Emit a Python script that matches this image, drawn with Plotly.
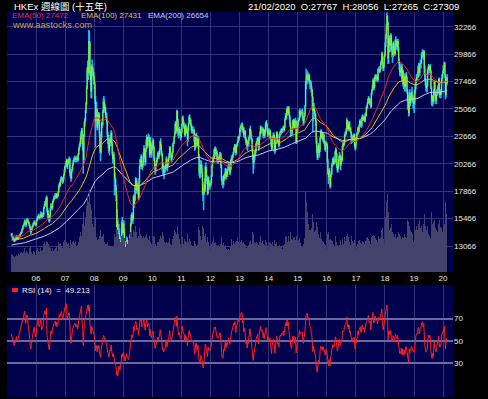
import numpy as np
import pandas as pd
import plotly.graph_objects as go

# ---------------- data (HSI weekly, values in hundreds of points) ----------------
first_open = 140
close = [
    # 2005 (from 25 Feb)
    141,139,138,137,136,135,137,136,137,139,138,137,138,139,139,140,141,142,143,145,146,148,149,151,152,150,149,152,154,153,152,151,149,147,144,143,145,147,148,150,151,152,150,149,149,
    # 2006
    153,154,155,157,156,155,156,158,159,156,157,158,158,164,166,168,167,171,173,162,158,159,155,153,157,163,166,165,164,169,171,172,173,174,175,173,176,174,175,178,182,185,184,188,189,190,188,187,189,193,196,200,
    # 2007
    201,203,206,200,203,205,207,207,194,193,190,197,198,202,205,206,207,208,206,206,206,208,206,211,216,218,220,226,229,232,223,220,206,228,238,241,249,255,269,285,288,282,310,308,284,276,266,288,285,284,280,278,
    # 2008
    272,259,240,251,250,234,245,240,246,229,216,213,226,238,237,248,257,257,250,252,245,245,240,229,224,223,214,221,224,222,230,220,212,207,211,206,190,189,182,175,147,152,128,139,142,135,127,135,138,150,151,142,
    # 2009
    150,144,133,126,130,132,136,128,127,123,125,131,139,150,156,158,153,155,174,168,171,182,189,188,179,180,182,173,188,200,206,204,209,200,202,203,212,216,209,204,215,222,226,218,225,226,225,211,223,219,211,215,
    # 2010
    219,223,217,207,201,197,201,204,206,208,212,209,211,215,222,219,212,211,199,201,195,198,198,199,203,207,199,204,203,208,210,217,211,210,206,210,213,220,221,226,229,238,235,231,249,240,230,229,233,232,227,226,230,
    # 2011
    237,243,238,236,235,228,236,230,234,232,223,232,238,244,240,241,237,232,233,232,231,232,224,217,222,228,227,219,224,224,209,196,194,196,202,199,195,177,176,177,185,180,200,198,191,188,177,190,186,183,185,184,
    # 2012
    186,192,201,205,208,208,215,214,216,211,213,207,206,206,207,210,211,211,201,190,187,186,185,192,190,194,198,191,196,193,197,201,201,199,195,198,206,207,208,210,211,216,215,219,214,212,219,220,222,226,225,227,
    # 2013
    233,233,236,236,237,232,234,228,229,231,225,221,223,217,221,220,225,227,233,231,226,224,216,210,203,208,209,213,214,220,222,223,225,219,217,226,229,235,232,231,232,233,227,232,227,230,237,239,237,232,229,232,
    # 2014
    228,228,231,225,220,216,223,226,228,227,215,214,221,225,230,228,222,223,219,227,230,231,230,233,232,232,235,232,235,242,245,243,250,251,247,252,246,243,237,231,231,230,233,240,236,241,234,240,240,222,231,233,
    # 2015
    239,241,241,249,245,247,247,248,248,242,238,244,245,253,273,277,281,281,276,278,280,274,273,273,268,267,261,249,254,251,246,246,240,224,216,208,215,219,212,215,225,231,230,226,229,224,228,221,222,215,218,221,
    # 2016
    219,205,195,191,197,193,183,193,194,202,202,207,203,205,204,213,215,211,201,197,199,206,209,210,202,203,208,206,217,220,219,221,228,229,229,233,241,233,237,233,239,232,234,230,226,225,223,227,226,228,218,216,220,
    # 2017
    225,229,229,234,231,236,240,240,236,236,243,244,241,243,243,240,246,245,252,252,256,259,260,256,257,258,253,264,267,270,276,269,270,278,280,277,278,279,276,285,285,285,284,286,291,292,299,291,286,288,296,299,
    # 2018
    308,314,323,332,326,295,311,313,306,310,315,303,301,298,308,304,303,299,311,310,306,305,310,303,293,290,283,285,282,288,277,284,272,277,279,270,273,280,278,266,258,256,247,265,256,262,259,265,261,261,258,255,
    # 2019
    256,267,271,276,279,279,279,288,288,282,290,291,291,299,299,300,296,301,286,279,274,269,270,271,285,285,288,285,288,284,269,259,257,262,257,267,274,264,260,258,263,267,267,271,277,263,266,263,265,277,279,282,
    # 2020
    285,286,291,280,263,274,278,273,
]
high = [
    142,142,140,139,138,137,138,138,138,140,140,139,139,140,140,141,142,143,144,146,147,149,150,152,154,153,151,153,155,155,154,153,152,150,148,145,146,148,149,151,152,153,153,151,150,
    154,156,157,158,159,158,157,159,161,160,158,160,160,165,167,170,170,173,175,174,164,162,161,157,158,164,168,168,167,170,172,174,175,176,177,177,177,177,176,179,184,186,187,189,191,192,191,190,191,194,198,201,
    203,205,207,207,204,206,208,209,208,197,195,198,200,203,206,208,209,210,209,208,208,210,209,212,217,220,222,227,231,234,234,226,222,229,240,243,250,257,271,287,293,293,320,319,310,288,280,290,294,290,287,283,
    280,274,262,256,257,251,246,248,248,247,231,220,228,240,242,250,260,262,259,255,253,248,247,242,231,228,225,223,228,226,232,231,222,214,213,213,208,195,190,184,176,163,155,148,150,146,138,138,140,153,156,153,
    152,153,146,135,132,135,139,138,131,130,127,133,141,151,158,160,160,157,175,176,173,183,191,190,190,182,186,184,190,201,207,209,211,210,205,206,213,219,217,212,216,224,228,227,227,229,228,226,225,226,221,217,
    220,225,224,218,209,203,202,205,208,210,213,214,213,216,223,225,220,214,212,204,202,200,201,201,204,209,208,205,206,209,212,218,218,213,212,211,214,221,223,227,231,239,240,237,250,249,242,234,234,235,233,229,231,
    238,244,245,241,239,237,237,238,235,236,233,233,239,245,246,243,242,238,235,236,234,235,233,226,224,229,230,228,226,227,226,211,202,199,206,205,202,196,182,181,187,190,201,204,200,193,189,192,191,188,187,187,
    188,193,202,206,209,211,216,217,218,217,215,214,209,209,208,211,213,213,212,202,192,189,188,193,194,195,199,199,197,198,198,202,203,203,200,199,207,210,209,211,213,217,218,220,220,216,220,221,223,227,227,228,
    234,235,237,238,239,238,235,235,231,232,232,226,224,224,222,223,226,228,234,236,232,228,225,218,211,209,212,214,216,221,223,225,226,226,221,227,231,236,236,234,234,235,234,233,233,231,238,240,241,238,234,233,
    234,230,233,232,227,221,224,227,230,230,228,218,222,226,231,231,229,224,225,228,231,232,233,234,234,233,236,236,236,243,247,247,251,253,252,253,253,248,245,239,234,233,235,241,242,242,242,241,243,241,233,235,
    240,243,243,250,251,249,249,250,251,249,243,245,247,254,275,286,283,284,283,280,282,281,276,276,275,271,268,262,256,256,252,249,247,241,226,218,217,221,220,216,226,232,233,231,230,230,229,229,224,223,219,222,
    222,220,207,198,198,199,194,194,196,203,205,208,209,206,207,214,217,216,212,203,201,207,210,213,211,206,209,210,218,221,222,223,229,231,231,234,243,241,238,239,240,240,235,235,231,228,226,228,229,229,229,219,221,
    226,230,231,235,235,237,241,242,241,238,244,246,245,245,245,244,247,248,253,254,257,260,262,261,259,260,259,265,268,272,277,278,272,279,281,281,280,281,280,286,287,288,287,288,292,294,301,300,292,290,297,300,
    309,316,325,335,333,327,313,315,315,312,317,316,306,305,309,310,308,306,312,314,312,310,312,312,305,295,292,287,289,290,290,286,285,279,282,281,275,282,283,279,268,263,257,266,268,264,264,266,270,265,263,260,
    260,268,272,277,281,281,283,289,291,290,291,294,293,300,301,303,302,302,302,289,282,276,272,275,286,288,290,289,289,290,285,270,262,263,263,268,275,275,266,262,264,268,270,272,278,278,268,268,266,278,281,284,
    289,288,292,292,281,276,279,281,
]
low = [
    139,138,137,136,135,134,134,135,135,136,137,136,136,137,138,138,139,140,141,142,144,145,147,148,150,149,147,148,151,152,151,150,148,146,143,141,142,144,146,147,149,150,149,148,148,
    148,152,153,154,155,154,154,155,157,155,155,156,156,157,163,165,165,166,170,160,155,155,152,151,152,156,162,164,162,163,168,170,171,172,173,172,172,173,173,174,177,181,182,183,187,188,186,185,186,188,192,195,
    198,200,202,199,198,202,204,205,192,190,187,189,195,197,201,204,204,205,204,204,204,205,204,205,210,214,217,218,224,227,220,214,194,204,226,235,240,247,254,268,282,276,280,296,280,272,260,260,280,279,276,272,
    268,255,217,236,245,232,232,238,237,227,212,205,211,225,234,236,247,253,248,247,243,241,238,226,220,216,212,210,218,218,219,218,210,203,204,202,175,180,178,170,140,138,107,120,132,134,123,124,130,136,146,141,
    140,142,130,124,123,128,130,126,124,121,113,122,129,136,148,153,151,150,154,164,166,170,180,185,177,176,177,171,172,186,198,201,202,198,197,199,201,210,207,201,202,213,220,216,217,223,222,208,210,217,208,209,
    214,218,215,205,199,193,195,200,202,204,207,207,207,210,214,217,210,209,196,193,192,189,194,195,197,201,197,196,200,201,206,209,210,208,204,204,208,212,218,220,225,228,232,229,230,238,227,225,227,229,225,223,225,
    229,236,236,234,233,226,227,229,229,230,218,222,231,237,238,238,235,230,229,230,229,229,222,214,215,221,225,217,218,222,206,192,190,190,195,196,191,175,170,162,175,178,178,194,188,185,175,176,184,181,180,182,
    182,185,191,199,203,205,207,211,212,209,209,205,203,203,204,205,208,208,199,188,184,183,181,183,188,188,193,189,189,191,191,196,199,197,193,193,197,204,205,206,208,210,213,214,212,210,211,217,218,221,223,223,
    226,230,231,234,234,230,230,226,225,227,223,219,219,215,214,218,218,223,225,229,224,222,213,206,194,198,204,206,210,212,218,220,222,217,214,216,224,228,230,229,229,231,225,225,226,225,229,235,235,231,226,228,
    227,225,227,224,218,214,215,222,225,225,213,211,213,220,224,226,221,220,217,218,226,229,228,229,230,230,231,231,231,234,241,241,242,248,245,246,245,241,235,226,228,228,228,232,234,234,233,233,237,220,220,230,
    231,236,239,240,244,243,245,246,246,240,236,237,241,244,252,268,272,277,273,274,276,272,268,270,265,262,250,230,240,248,243,242,236,220,212,206,206,212,210,208,213,224,228,224,224,222,222,220,218,214,213,216,
    217,203,193,185,188,191,181,182,191,193,200,201,202,202,202,203,211,209,199,195,195,198,205,208,200,197,201,204,205,215,217,218,220,226,227,228,232,232,231,232,232,231,231,229,220,221,221,222,224,225,217,214,215,
    218,224,227,228,230,230,235,238,235,234,235,242,240,240,241,239,239,244,244,250,251,255,258,255,254,256,251,252,263,266,269,267,267,269,277,275,275,277,274,275,283,283,282,283,285,289,291,290,284,284,287,295,
    297,305,312,321,320,290,290,308,300,301,308,301,296,291,296,301,299,297,298,306,303,302,303,301,291,285,280,279,280,280,275,274,270,268,274,266,266,271,275,264,250,250,244,245,254,253,255,257,258,256,251,250,
    247,254,264,268,274,276,276,278,283,279,280,286,286,290,295,296,294,294,281,275,271,266,266,265,270,281,283,282,283,282,268,254,253,253,255,255,266,262,257,255,255,262,264,266,270,261,260,262,260,263,275,277,
    282,282,284,278,259,261,271,272,
]
volume = [
    18,16,17,15,16,17,15,16,18,17,15,16,17,18,16,17,19,18,20,22,19,21,20,22,24,19,18,21,23,20,19,18,22,24,26,21,20,19,18,22,21,20,19,17,15,
    22,25,24,23,21,20,22,24,23,21,20,22,21,28,30,32,27,29,31,36,30,26,28,25,22,24,23,21,22,24,22,21,23,22,24,23,25,22,21,26,30,28,25,29,27,26,25,24,27,30,32,33,
    28,26,30,27,28,25,29,24,36,32,30,28,26,30,31,28,29,32,30,28,26,29,27,30,33,35,37,40,40,36,44,48,60,52,46,48,55,60,66,80,76,70,92,82,74,68,70,62,52,48,45,38,
    45,52,55,42,35,38,32,33,30,36,40,42,32,35,33,36,38,33,30,29,28,27,28,30,27,26,28,27,25,26,28,26,25,27,26,30,38,42,35,40,45,42,44,38,35,33,31,30,34,36,32,26,
    26,30,34,28,25,27,30,28,26,32,36,34,38,40,36,38,35,30,42,45,40,44,46,42,40,34,33,36,40,44,42,38,40,36,34,35,36,38,34,32,36,38,35,34,30,32,33,36,32,30,28,24,
    24,32,36,34,35,30,28,26,27,30,32,30,28,33,38,36,34,31,40,38,36,32,30,28,29,30,31,29,28,30,32,34,30,28,27,30,33,38,36,40,42,45,40,38,50,46,42,38,35,33,31,28,24,
    32,35,30,28,30,33,31,29,30,32,38,34,30,35,33,31,28,27,28,26,25,26,29,31,28,27,26,28,27,26,45,55,42,36,33,32,34,46,42,44,40,36,38,33,30,32,35,34,30,28,26,22,
    25,28,32,30,33,35,31,29,30,28,27,29,26,24,27,26,25,28,32,35,30,27,28,29,26,25,27,24,23,25,22,24,23,22,24,26,30,33,29,27,30,31,28,32,30,28,31,33,35,33,30,24,
    28,30,34,32,33,29,27,30,28,29,27,26,24,28,26,25,27,30,34,31,29,28,36,40,46,38,30,28,29,33,30,31,29,27,25,30,33,36,32,29,30,31,28,30,27,28,32,34,30,28,26,22,
    28,30,31,29,25,28,27,30,26,27,32,30,28,29,30,27,25,26,24,27,26,25,24,26,25,23,27,29,28,34,36,33,35,32,30,36,33,31,35,40,36,33,30,32,34,31,35,33,32,38,36,30,
    28,32,30,34,31,29,27,26,25,30,28,32,34,48,80,90,70,60,52,48,45,42,40,42,45,44,58,62,50,45,40,38,42,55,50,45,40,38,36,34,38,40,36,33,31,35,30,32,28,30,27,24,
    22,38,42,40,35,32,36,33,30,32,31,33,28,27,26,34,36,30,28,27,26,25,28,27,36,32,27,26,33,30,28,29,35,34,31,36,40,38,34,35,33,30,28,27,36,34,31,30,29,28,32,30,22,
    26,30,28,29,31,33,32,30,29,28,33,31,29,30,27,28,32,31,34,33,35,36,33,30,31,29,28,35,34,36,38,37,33,36,34,31,32,33,30,38,36,35,33,34,40,42,45,44,38,33,30,28,
    55,62,70,80,78,88,60,45,42,44,46,48,44,40,42,38,36,35,38,36,34,33,35,37,40,42,38,36,35,33,37,35,40,34,33,38,35,36,34,45,52,48,50,46,40,42,38,40,44,38,35,30,
    45,50,42,44,46,38,42,50,48,52,45,44,40,46,42,40,38,48,58,52,46,44,42,40,46,42,38,36,35,34,55,60,52,48,45,50,52,48,44,40,42,45,40,38,48,52,58,45,42,44,48,40,
    50,45,48,55,70,65,58,60,
]
ema_start = {50: 13940, 100: 13590, 200: 13150}   # EMA values at first bar
rsi_seed_gain, rsi_seed_loss = 130.0, 100.0
price_ticks = [13066, 15466, 17866, 20266, 22666, 25066, 27466, 29866, 32266]
rsi_ticks = [0, 30, 50, 70]
year_ticks = ["%d-01-01" % y for y in range(2006, 2021)]
year_labels = ["06", "07", "08", "09", "10", "11", "12", "13", "14", "15", "16", "17", "18", "19", "20"]

# ---------------- preparation ----------------
n = min(len(close), len(high), len(low), len(volume))
dates = pd.date_range("2005-02-25", periods=n, freq="7D")
c = np.array(close[:n], float) * 100
o = np.concatenate([[first_open * 100.0], c[:-1]])
h = np.maximum.reduce([np.array(high[:n], float) * 100, o, c])
l = np.minimum.reduce([np.array(low[:n], float) * 100, o, c])
v = np.array(volume[:n], float)

def ema(series, span, start):
    a = 2.0 / (span + 1)
    out = [start]
    for val in series[1:]:
        out.append(out[-1] + a * (val - out[-1]))
    return out

def rsi(series, period=14):
    ag, al = rsi_seed_gain, rsi_seed_loss
    out = [100 * ag / (ag + al)]
    for i in range(1, len(series)):
        d = series[i] - series[i - 1]
        ag = (ag * (period - 1) + max(d, 0)) / period
        al = (al * (period - 1) + max(-d, 0)) / period
        out.append(100 * ag / (ag + al))
    return out

def segs(x, y0, y1):
    xs, ys = [], []
    for xi, a, b in zip(x, y0, y1):
        xs += [xi, xi, None]
        ys += [a, b, None]
    return xs, ys

FONT = "Liberation Sans, Arial, Noto Sans CJK TC, sans-serif"
BG = "#00004c"
GRID = "#33337c"
XR = ["2005-01-01", "2020-05-05"]

fig = go.Figure()
# volume
fig.add_trace(go.Bar(x=dates, y=v, width=7 * 86400000, marker=dict(color="#42426c", line=dict(width=0)),
                     xaxis="x", yaxis="y3", hoverinfo="skip", showlegend=False))
# wicks
wx, wy = segs(dates, l, h)
fig.add_trace(go.Scatter(x=wx, y=wy, mode="lines", line=dict(color="#20bcf4", width=1.5),
                         xaxis="x", yaxis="y", hoverinfo="skip", showlegend=False))
# bodies
bx, by = segs(dates, o, c)
fig.add_trace(go.Scatter(x=bx, y=by, mode="lines", line=dict(color="#8cf820", width=1.0),
                         xaxis="x", yaxis="y", hoverinfo="skip", showlegend=False))
# EMAs
for span, col in [(200, "#c8c8f0"), (100, "#e8c000"), (50, "#e82828")]:
    fig.add_trace(go.Scatter(x=dates, y=ema(c, span, ema_start[span]), mode="lines",
                             line=dict(color=col, width=1), xaxis="x", yaxis="y",
                             hoverinfo="skip", showlegend=False))
# RSI
fig.add_trace(go.Scatter(x=dates, y=rsi(c), mode="lines", line=dict(color="#ff2020", width=1),
                         xaxis="x2", yaxis="y2", hoverinfo="skip", showlegend=False))

xd = [7 / 488, 453 / 488]
tickfont = dict(family=FONT, size=8, color="#e8e8e8")
fig.update_layout(
    width=488, height=399, margin=dict(l=0, r=0, t=0, b=0),
    paper_bgcolor="#000000", plot_bgcolor=BG, showlegend=False, bargap=0,
    xaxis=dict(domain=xd, type="date", range=XR, tickvals=year_ticks, ticktext=year_labels,
               tickfont=tickfont, showgrid=True, gridcolor=GRID, gridwidth=1, zeroline=False,
               ticks="", showline=False, anchor="y"),
    yaxis=dict(domain=[127 / 399, 387 / 399], range=[10790, 33553], side="right",
               tickvals=price_ticks, ticktext=[str(t) for t in price_ticks], tickfont=tickfont,
               showgrid=True, gridcolor=GRID, gridwidth=1, zeroline=False, ticks="",
               anchor="x"),
    yaxis3=dict(overlaying="y", range=[0, 260], visible=False, anchor="x"),
    xaxis2=dict(domain=xd, type="date", range=XR, tickvals=year_ticks, showticklabels=False,
                showgrid=True, gridcolor=GRID, gridwidth=1, zeroline=False, ticks="", anchor="y2"),
    yaxis2=dict(domain=[2 / 399, 114 / 399], range=[0, 100], side="right", tickvals=rsi_ticks,
                ticktext=[str(t) for t in rsi_ticks], tickfont=tickfont, showgrid=True,
                gridcolor="#6a6aa2", gridwidth=2, zeroline=False, ticks="",
                anchor="x2"),
)

def ann(text, x, y, color, size):
    fig.add_annotation(text=text, x=x / 488, y=1 - y / 399, xref="paper", yref="paper",
                       xanchor="left", yanchor="middle", showarrow=False,
                       font=dict(family=FONT, size=size, color=color))

ann("HKEx 週線圖 (十五年)", 12, 6, "#ffffff", 9.5)
ann("21/02/2020  O:27767  H:28056  L:27265  C:27309", 246, 6, "#ffffff", 9.5)
ann("EMA(50) 27472", 10, 15, "#e82828", 8)
ann("EMA(100) 27431", 79, 15, "#e8c000", 8)
ann("EMA(200) 26654", 146, 15, "#c8c8f0", 8)
ann("www.aastocks.com", 10, 25, "#c8a030", 9.3)
ann("RSI (14)  =  49.213", 20, 290, "#e8e8e8", 8)
fig.add_shape(type="rect", xref="paper", yref="paper", x0=12 / 488, x1=18 / 488,
              y0=1 - 292 / 399, y1=1 - 288 / 399, fillcolor="#ff2020", line=dict(width=0))

fig.write_html("out.html", config={"displayModeBar": False, "staticPlot": True},
               post_script="document.body.style.margin='0';document.body.style.overflow='hidden';document.body.style.background='#000';")
